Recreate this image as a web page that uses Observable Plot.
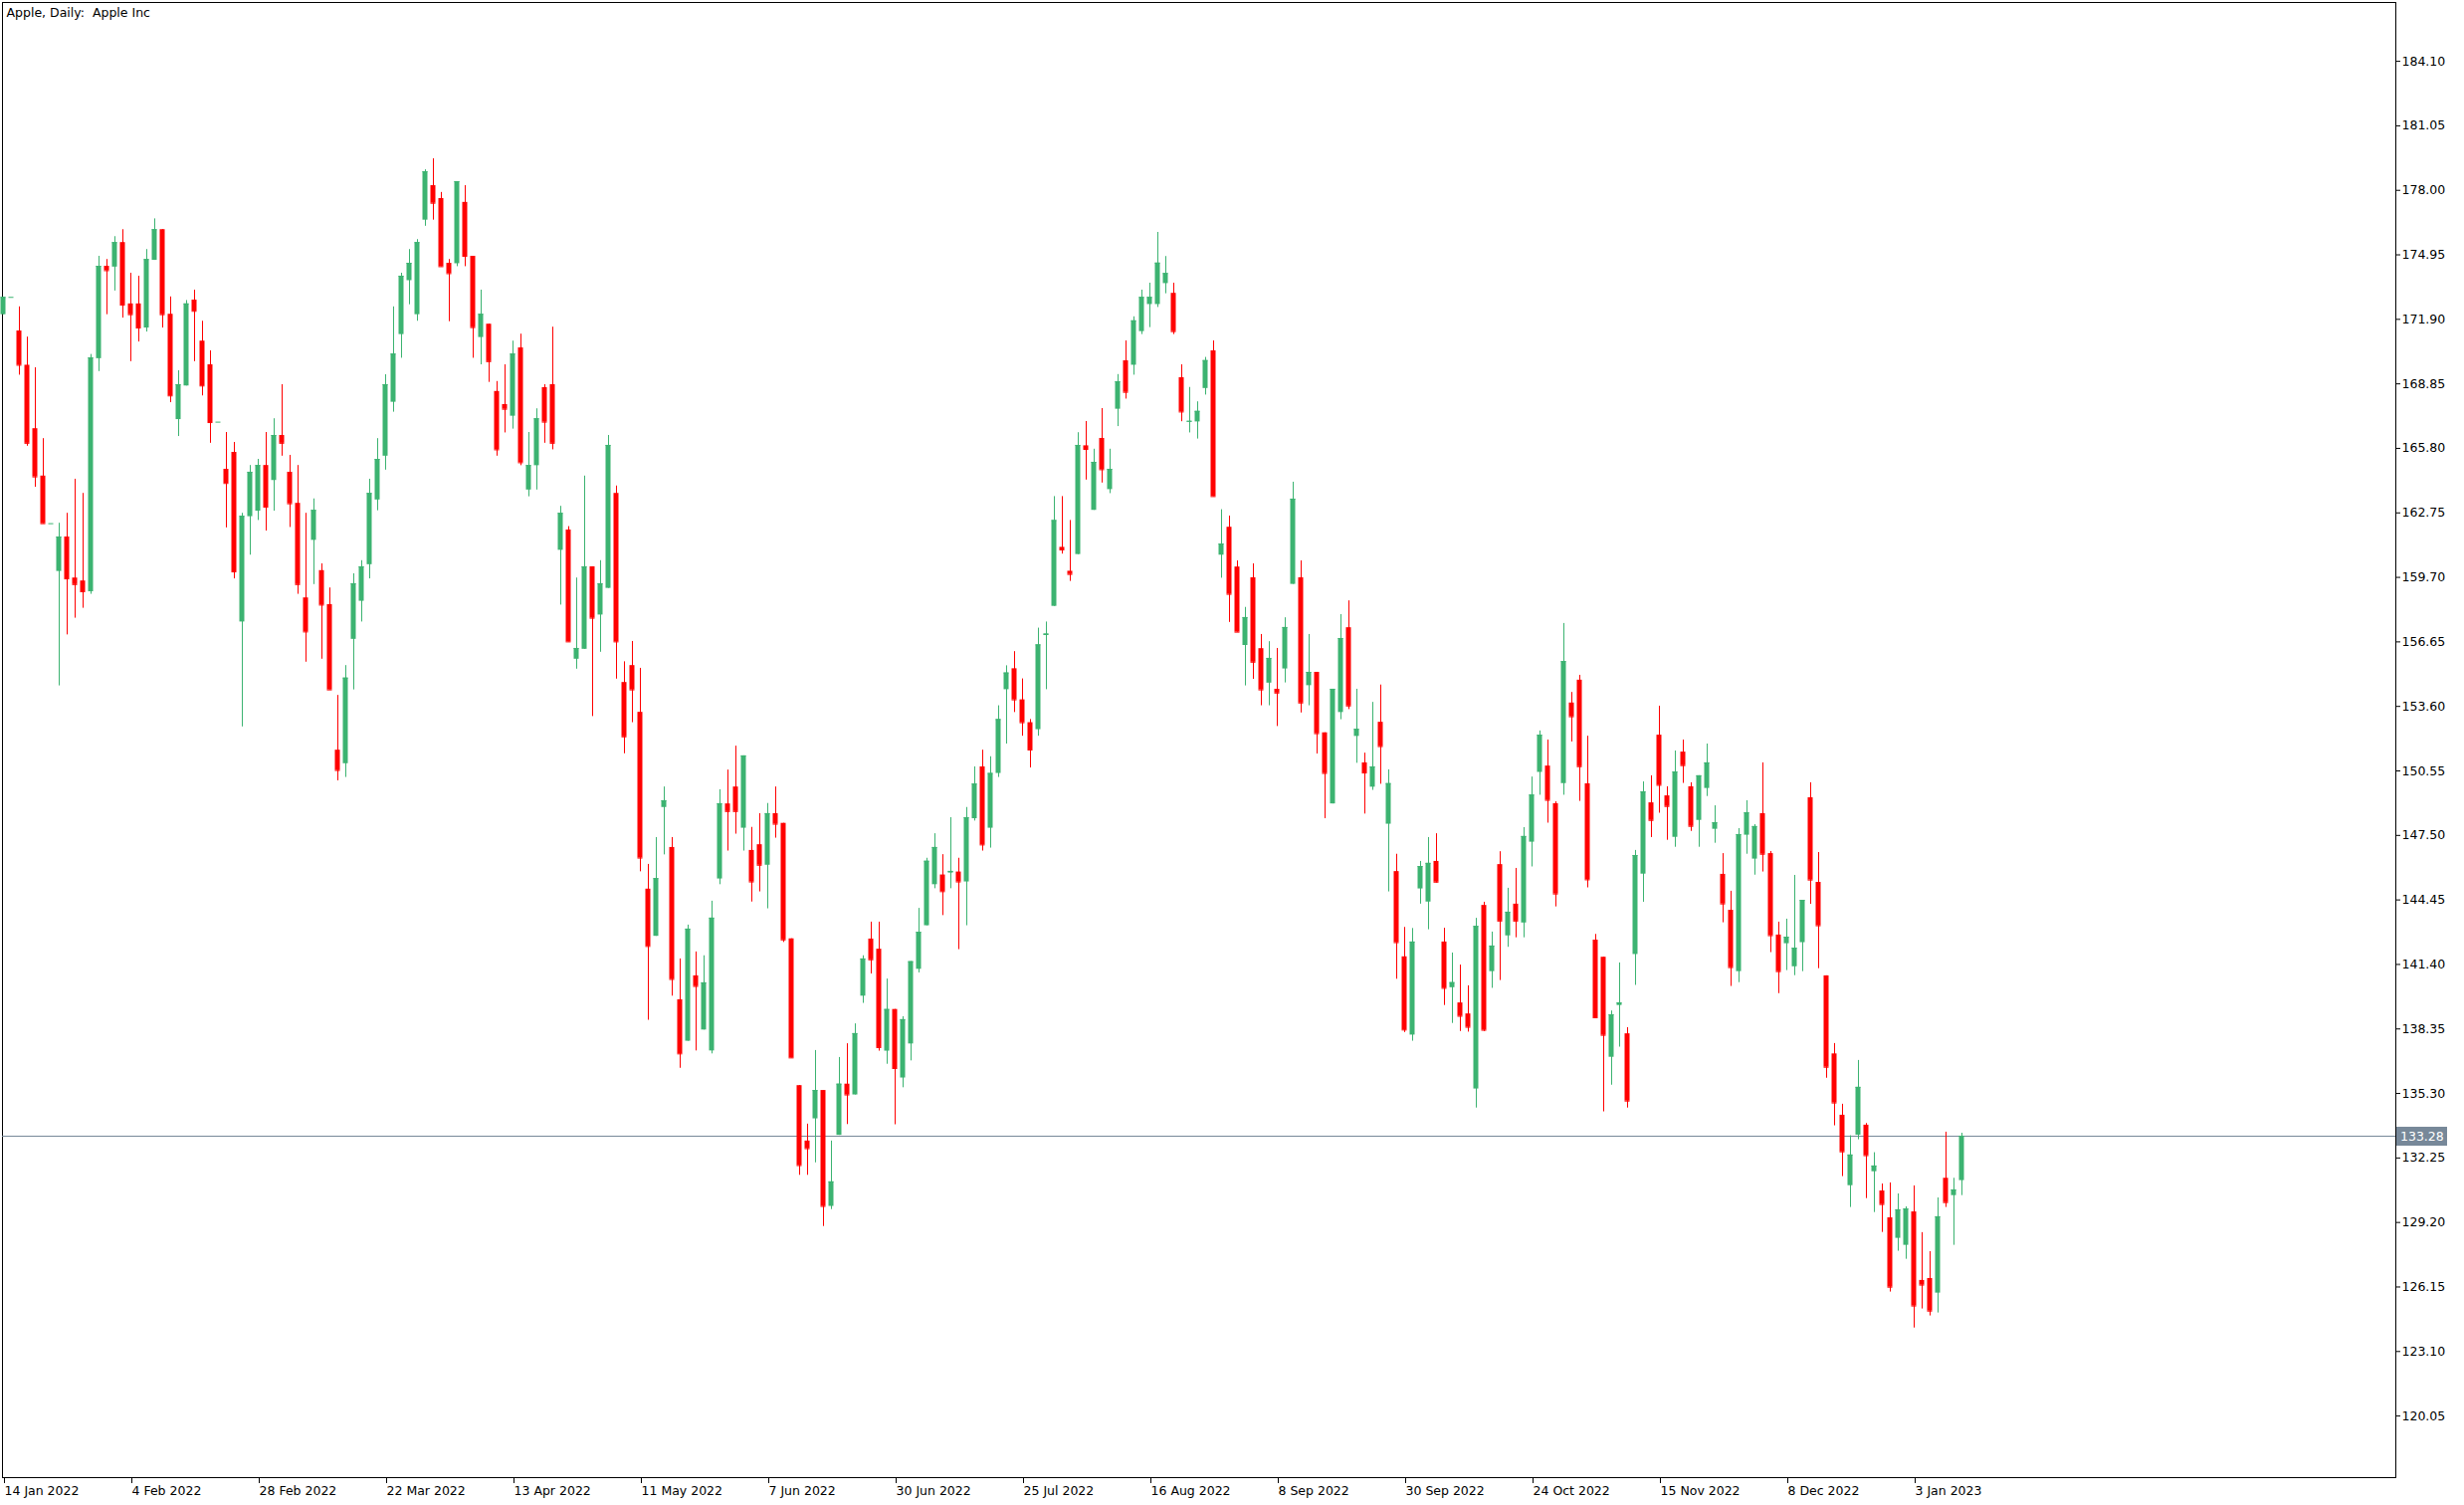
<!DOCTYPE html>
<html>
<head>
<meta charset="utf-8">
<script src="https://cdn.jsdelivr.net/npm/d3@7"></script>
<script src="https://cdn.jsdelivr.net/npm/@observablehq/plot@0.6"></script>
<style>
  html, body { margin: 0; padding: 0; background: #ffffff; }
  #chart svg { display: block; }
  #chart svg text { white-space: pre; }
</style>
</head>
<body>
<div id="chart"></div>
<script>
const title = "Apple, Daily:  Apple Inc";

const open = [
172.12,172.94,171.35,169.73,166.73,164.49,162.24,159.98,161.61,159.67,
159.53,159.02,170.04,174.41,174.37,175.53,172.63,172.63,171.49,174.69,
176.14,172.14,167.16,168.75,172.81,170.87,169.75,167.04,164.81,165.61,
157.59,162.57,162.83,164.99,164.28,166.41,164.67,163.20,158.73,161.45,
160.02,158.41,151.53,150.89,156.77,158.57,160.30,163.36,165.43,167.98,
171.18,173.73,172.12,176.59,178.22,177.61,174.55,174.53,177.43,174.88,
171.04,171.67,168.49,167.87,167.32,170.55,163.83,164.98,168.67,168.81,
160.98,161.94,155.83,156.30,160.20,157.92,159.18,163.67,154.73,155.53,
153.32,144.96,142.73,148.82,146.93,139.73,137.77,140.86,138.30,137.31,
145.44,148.99,149.79,147.84,146.79,147.06,146.09,148.53,148.07,142.61,
135.67,133.05,134.10,135.44,129.96,133.32,135.74,135.23,139.90,142.60,
142.12,137.30,139.27,136.03,137.64,141.17,143.23,145.17,145.63,145.72,
145.77,145.30,148.29,150.74,147.84,150.43,154.39,155.38,153.91,152.83,
152.50,156.95,158.33,161.12,159.99,160.78,165.92,162.87,166.27,163.85,
167.65,169.94,169.73,171.32,172.60,172.60,173.59,173.13,169.14,167.04,
167.05,168.63,170.41,160.75,162.07,160.19,156.48,159.68,156.33,154.70,
154.41,155.37,159.37,159.68,154.58,155.21,152.35,148.99,153.31,157.32,
152.18,150.93,149.78,152.85,148.03,145.79,141.76,138.06,144.97,144.35,
146.27,142.46,140.30,139.58,139.06,135.51,144.19,141.06,146.12,142.75,
144.25,143.36,147.18,150.48,150.78,149.00,149.95,153.76,154.84,149.94,
142.55,141.74,137.01,139.46,138.12,141.87,145.67,149.04,152.24,149.37,
147.41,151.44,149.80,148.21,149.72,147.79,145.66,143.96,141.06,147.51,
146.38,148.53,146.64,142.79,142.38,141.29,142.43,149.28,145.28,140.86,
137.17,134.27,130.94,133.33,133.80,131.60,130.69,129.42,128.45,128.12,
129.70,126.46,126.55,125.86,131.29,130.47,131.18
];
const high = [
172.94,172.94,172.49,171.06,169.61,166.26,162.24,162.26,162.73,164.34,
163.67,170.24,174.88,174.73,175.81,176.14,174.08,173.94,175.20,176.65,
176.14,172.96,169.47,172.79,173.28,171.81,170.41,167.04,166.55,166.08,
162.73,164.99,165.28,166.55,167.20,168.81,165.47,164.99,162.73,163.41,
160.34,159.20,154.12,155.53,159.87,160.49,164.34,166.26,169.28,172.49,
174.08,175.20,175.67,178.97,179.49,177.90,174.73,178.41,178.22,174.88,
173.28,171.67,168.96,169.75,170.87,171.20,166.55,167.67,168.81,171.53,
163.06,162.10,159.67,164.49,160.20,160.49,166.41,164.02,155.71,156.67,
155.40,146.13,147.40,149.79,147.40,141.66,143.26,141.99,141.81,144.39,
149.66,150.59,151.72,151.26,147.88,148.53,149.01,149.79,148.07,142.61,
135.67,133.85,137.33,135.44,133.05,137.00,137.65,138.59,141.81,143.40,
143.40,140.71,139.27,138.93,141.53,144.05,146.42,147.58,146.59,148.34,
146.42,148.82,150.74,151.53,151.22,153.63,155.52,156.19,154.90,152.98,
157.30,157.59,163.52,163.52,162.39,166.54,167.07,165.76,167.68,165.76,
169.29,170.88,172.02,173.28,173.61,176.01,174.87,173.61,169.75,168.68,
168.00,170.10,170.88,162.90,162.60,160.48,158.28,160.34,157.00,156.66,
156.34,157.79,164.20,160.48,157.00,155.21,152.35,154.41,157.94,158.59,
154.41,151.39,153.79,154.61,150.60,146.61,143.15,143.10,146.27,147.40,
147.58,143.11,141.94,141.37,140.39,143.58,144.34,142.93,146.73,145.00,
145.94,147.87,150.26,152.44,152.01,149.09,157.52,154.26,155.07,152.19,
142.82,141.74,139.20,141.47,138.41,146.79,150.03,150.32,153.61,149.80,
151.49,152.01,149.99,150.32,151.82,148.90,146.64,144.86,147.82,149.14,
148.01,150.93,146.74,143.40,143.54,145.61,144.43,149.99,146.69,140.86,
137.66,134.79,133.30,136.86,133.88,132.50,131.02,131.07,130.55,129.94,
130.93,128.72,127.82,130.36,133.47,131.29,133.42
];
const low = [
172.12,172.94,169.26,165.90,163.96,162.24,162.24,154.57,156.98,157.77,
158.24,158.90,169.43,172.12,173.24,171.96,169.90,170.83,171.30,174.69,
171.49,167.96,166.36,168.75,169.90,168.28,166.04,167.04,162.04,159.63,
152.63,160.75,162.39,161.89,162.83,165.43,162.06,158.90,155.69,159.36,
155.83,154.38,150.08,150.24,154.38,157.59,159.63,162.85,164.77,167.51,
170.06,172.59,171.81,176.30,176.59,174.39,171.79,174.39,174.39,170.06,
169.75,168.92,165.43,166.53,166.71,164.98,163.51,163.83,166.04,165.73,
158.39,156.65,155.36,156.30,153.12,156.16,159.18,154.89,151.36,152.83,
145.78,138.76,142.73,146.58,139.90,136.49,137.77,137.31,138.30,137.17,
145.17,146.76,147.56,146.76,144.35,144.83,144.03,147.37,142.44,136.98,
131.43,131.43,132.02,129.01,129.81,133.32,133.83,135.23,139.56,140.95,
137.30,136.68,133.82,135.57,136.84,141.00,143.23,144.98,143.71,144.98,
142.10,143.23,148.18,146.76,146.90,150.24,151.82,153.31,152.19,150.69,
152.19,154.39,158.33,160.80,159.51,160.78,164.30,162.87,164.16,163.66,
166.83,168.13,169.26,171.18,171.51,172.46,173.11,171.18,167.06,166.53,
166.24,168.32,163.52,159.66,157.57,157.11,154.57,154.88,153.63,153.63,
152.65,154.71,159.37,153.29,153.63,151.35,148.29,148.99,152.97,153.45,
150.91,148.51,149.63,149.92,144.83,140.70,138.18,137.77,144.25,143.04,
145.25,139.46,138.61,138.23,138.20,134.61,138.23,140.27,140.64,142.21,
142.66,142.66,146.01,149.40,148.08,144.12,149.40,151.92,149.11,145.02,
138.84,134.43,135.69,137.49,134.61,140.41,144.34,147.40,148.55,147.27,
146.94,149.96,147.69,146.94,149.34,147.13,143.37,140.36,140.54,146.61,
145.62,145.77,141.96,140.02,141.11,140.87,141.06,144.24,141.20,136.02,
133.77,131.37,129.91,133.11,130.33,129.67,128.73,125.91,127.84,127.46,
124.21,125.11,124.78,124.92,129.91,128.12,130.47
];
const close = [
172.94,172.94,169.73,166.04,164.45,162.24,162.24,161.61,159.63,159.36,
159.02,170.08,174.41,174.20,175.53,172.57,172.12,171.49,174.73,176.14,
172.12,168.28,168.81,172.63,172.28,168.75,167.02,167.04,164.14,159.96,
162.59,164.67,164.99,163.02,166.41,166.04,163.18,159.36,157.12,162.87,
158.39,154.38,150.57,154.94,159.40,160.20,163.67,165.28,168.81,170.26,
173.94,174.55,175.53,178.88,177.39,174.39,174.06,178.41,174.88,171.51,
172.14,169.90,165.73,167.65,170.26,165.12,164.99,167.20,167.04,166.04,
162.73,156.65,156.34,160.20,157.77,159.40,165.94,156.65,152.16,154.38,
146.43,142.25,145.46,149.14,140.69,137.17,143.07,140.36,140.53,143.59,
149.00,148.63,148.63,151.26,145.30,146.09,148.53,148.03,142.56,136.98,
131.89,132.69,135.44,129.96,131.12,135.74,135.23,138.13,141.66,141.62,
137.47,139.27,136.48,138.79,141.53,142.92,146.28,146.93,144.84,145.80,
145.30,148.34,149.93,147.05,150.43,152.98,155.18,153.91,152.83,151.54,
156.51,157.02,162.39,161.00,159.84,165.94,165.75,165.14,164.79,164.81,
168.95,168.45,171.83,172.94,172.94,174.56,174.07,171.32,167.52,167.08,
167.55,169.95,163.52,161.28,158.90,157.11,157.80,155.69,154.38,155.87,
154.23,157.33,163.40,153.76,155.21,152.31,150.43,154.41,156.81,153.62,
152.52,150.45,150.74,151.70,149.95,142.43,138.30,142.46,146.03,146.18,
145.29,140.27,140.54,138.95,138.43,143.20,138.29,142.27,143.45,143.87,
143.45,147.45,149.41,152.24,149.16,144.73,155.72,153.11,150.75,145.40,
138.88,138.05,139.02,139.58,134.94,146.55,149.56,148.21,149.87,148.87,
150.50,150.80,147.93,150.32,150.93,148.10,144.26,141.25,147.54,148.57,
147.92,146.61,142.76,141.06,142.69,142.17,144.43,145.39,143.23,136.54,
134.85,132.54,132.39,135.59,132.36,131.87,130.05,126.14,129.80,129.84,
125.25,126.24,125.01,129.47,130.14,130.74,133.28
];

const yTicks = [184.10,181.05,178.00,174.95,171.90,168.85,165.80,162.75,159.70,156.65,
  153.60,150.55,147.50,144.45,141.40,138.35,135.30,132.25,129.20,126.15,123.10,120.05];
const tickBars = [0,16,32,48,64,80,96,112,128,144,160,176,192,208,224,240];
const tickLabels = ["14 Jan 2022","4 Feb 2022","28 Feb 2022","22 Mar 2022","13 Apr 2022","11 May 2022",
  "7 Jun 2022","30 Jun 2022","25 Jul 2022","16 Aug 2022","8 Sep 2022","30 Sep 2022",
  "24 Oct 2022","15 Nov 2022","8 Dec 2022","3 Jan 2023"];

const bull = "#3cb371", bear = "#ff0000", priceLineColor = "#778899";
const data = close.map((c, i) => ({i, o: open[i], h: high[i], l: low[i], c}));
const lastClose = close[close.length - 1];
const col = d => d.c >= d.o ? bull : bear;
const half = 0.3125;
const font = "DejaVu Sans";

const chart = Plot.plot({
  width: 2476,
  height: 1512,
  marginLeft: 2,
  marginRight: 69,
  marginTop: 2,
  marginBottom: 28,
  style: {background: "#ffffff", fontFamily: font, fontSize: "12.5px", color: "#000000"},
  x: {type: "linear", domain: [0, close.length - 1], range: [3, 3 + 8 * (close.length - 1)], axis: null, label: null},
  y: {domain: [120.05, 184.10], range: [1422.1, 61.1], axis: null, label: null},
  color: {type: "identity"},
  marks: [
    Plot.frame({stroke: "#000000"}),
    Plot.ruleY([lastClose], {stroke: priceLineColor, strokeWidth: 1}),
    Plot.ruleX(data, {x: "i", y1: "l", y2: "h", stroke: col, strokeWidth: 1}),
    Plot.rect(data, {x1: d => d.i - half, x2: d => d.i + half, y1: "o", y2: "c", fill: col}),
    Plot.ruleY(data, {x1: d => d.i - half, x2: d => d.i + half, y: "c", stroke: col, strokeWidth: 1}),
    Plot.axisY(yTicks, {anchor: "right", tickSize: 4, tickPadding: 2, textAnchor: "start", label: null,
      tickFormat: d => d.toFixed(2), fontSize: 12.5, fontFamily: font, fill: "#000000"}),
    Plot.axisX(tickBars, {anchor: "bottom", tickSize: 6, tickPadding: 3, textAnchor: "start", dx: 1, label: null,
      tickFormat: d => tickLabels[tickBars.indexOf(d)], fontSize: 12.5, fontFamily: font, fill: "#000000"}),
    Plot.text([title], {frameAnchor: "top-left", dx: 4, dy: 6, textAnchor: "start", lineAnchor: "top",
      fontSize: 12.5, fontFamily: font, fill: "#000000"})
  ]
});

document.getElementById("chart").appendChild(chart);

// current price tag on the right axis
const yScale = chart.scale("y");
const yy = yScale.apply(lastClose);
const frameRight = 2476 - 69;
const svg = d3.select(chart);
const tag = svg.append("g");
tag.append("rect")
  .attr("x", frameRight + 1).attr("y", Math.round(yy) - 9)
  .attr("width", 51).attr("height", 19)
  .attr("fill", priceLineColor);
tag.append("text")
  .attr("x", frameRight + 5).attr("y", yy + 1)
  .attr("dy", "0.35em")
  .attr("text-anchor", "start")
  .attr("fill", "#ffffff")
  .attr("font-family", font)
  .attr("font-size", 12.5)
  .text(lastClose.toFixed(2));
</script>
</body>
</html>
